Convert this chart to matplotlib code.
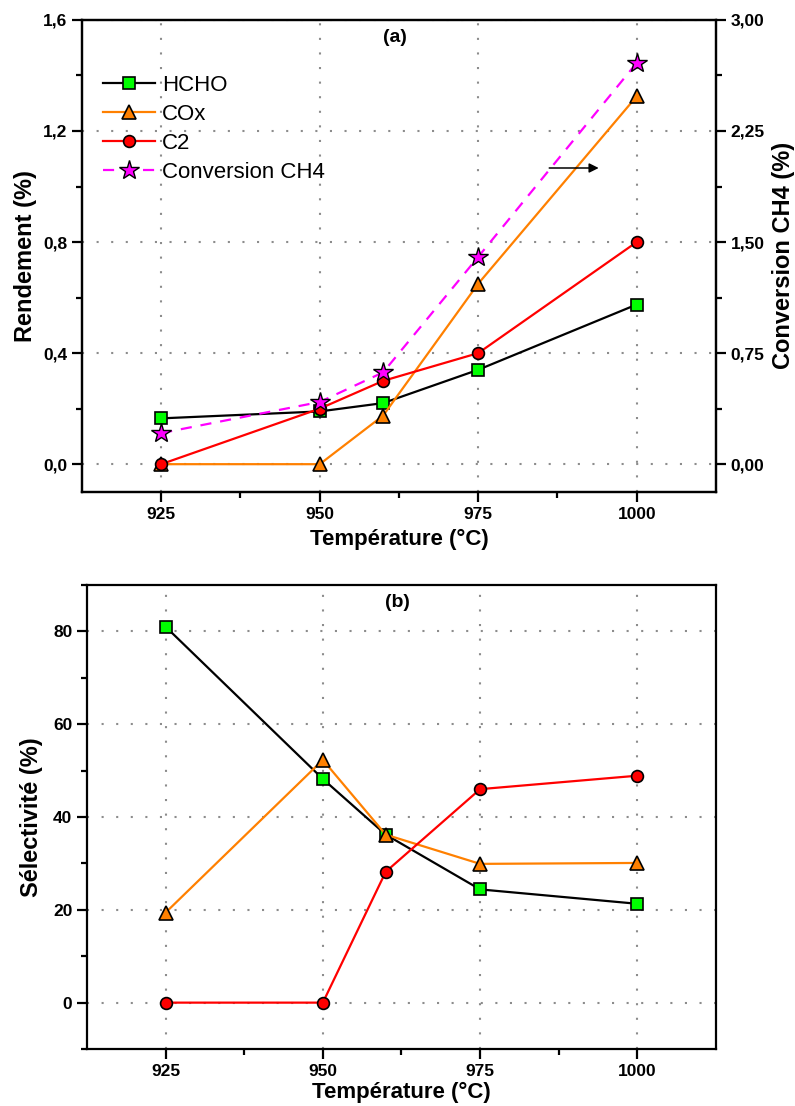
import matplotlib
matplotlib.use("Agg")
import matplotlib.pyplot as plt
from matplotlib.ticker import FixedLocator, MultipleLocator, FuncFormatter

plt.rcParams['font.family'] = ['Liberation Sans', 'DejaVu Sans']

# data
temp = [925, 950, 960, 975, 1000]

# (a) rendement (%) and conversion (%)
rdt_hcho = [0.165, 0.19, 0.22, 0.34, 0.575]
rdt_cox = [0.0, 0.0, 0.175, 0.65, 1.325]
rdt_c2 = [0.0, 0.20, 0.30, 0.40, 0.80]
conv_ch4 = [0.21, 0.42, 0.62, 1.40, 2.71]

# (b) selectivite (%)
sel_hcho = [81.0, 48.2, 36.2, 24.4, 21.3]
sel_cox = [19.4, 52.3, 36.2, 29.9, 30.1]
sel_c2 = [0.0, 0.0, 28.2, 46.0, 48.9]

labels = ['HCHO', 'COx', 'C2', 'Conversion CH4']
colors = ['black', '#ff8000', '#ff0000', '#ff00ff']

grid_kw = dict(color='#8c8c8c', linestyle=(0, (1, 6)), linewidth=1.5)
TICK_FS = 12.5
XLABEL_FS = 16
YLABEL_FS = 17


def comma(fmt):
    return FuncFormatter(lambda v, p: (fmt % v).replace('.', ','))


def style_axes(ax):
    for s in ax.spines.values():
        s.set_linewidth(1.6)
    ax.tick_params(which='major', direction='out', length=7, width=1.6,
                   labelsize=TICK_FS)
    ax.tick_params(which='minor', direction='out', length=4.5, width=1.6)
    ax.tick_params(top=False, right=False)
    for lab in ax.get_xticklabels() + ax.get_yticklabels():
        lab.set_fontweight('bold')
    ax.set_xlim(912.5, 1012.5)
    ax.xaxis.set_major_locator(FixedLocator([925, 950, 975, 1000]))
    ax.xaxis.set_minor_locator(FixedLocator([937.5, 962.5, 987.5]))
    ax.grid(True, which='major', **grid_kw)
    ax.set_axisbelow(True)
    ax.set_xlabel('Température (°C)', fontsize=XLABEL_FS, fontweight='bold')


def series(ax, y, color, marker, ms, face):
    return ax.plot(temp, y, color=color, lw=1.6, marker=marker, ms=ms,
                   mfc=face, mec='black', mew=1.2)[0]


fig = plt.figure(figsize=(7.95, 11.06), dpi=100)

# ---- (a)
ax1 = fig.add_axes([0.1031, 0.5552, 0.7975, 0.4268])
h1 = series(ax1, rdt_hcho, colors[0], 's', 8.5, '#00ff00')
h2 = series(ax1, rdt_cox, colors[1], '^', 9.5, '#ff8000')
h3 = series(ax1, rdt_c2, colors[2], 'o', 8.5, '#ff0000')
ax1.set_ylim(-0.1, 1.6)
ax1.yaxis.set_major_locator(MultipleLocator(0.4))
ax1.yaxis.set_minor_locator(MultipleLocator(0.2))
ax1.yaxis.set_major_formatter(comma('%.1f'))
style_axes(ax1)
ax1.set_ylabel('Rendement (%)', fontsize=YLABEL_FS, fontweight='bold')
ax1.yaxis.set_label_coords(-0.071, 0.5)
ax1.xaxis.set_label_coords(0.5, -0.078)

ax2 = ax1.twinx()
h4 = ax2.plot(temp, conv_ch4, color=colors[3], lw=1.6, linestyle=(0, (5, 4)),
              marker='*', ms=15, mfc='#ff00ff', mec='black', mew=1.0)[0]
ax2.set_ylim(-0.1 * 1.875, 3.0)
ax2.yaxis.set_major_locator(MultipleLocator(0.75))
ax2.yaxis.set_minor_locator(MultipleLocator(0.375))
ax2.yaxis.set_major_formatter(comma('%.2f'))
ax2.tick_params(which='major', direction='out', length=7, width=1.6,
                labelsize=TICK_FS)
ax2.tick_params(which='minor', direction='out', length=4.5, width=1.6)
for lab in ax2.get_yticklabels():
    lab.set_fontweight('bold')
for s in ax2.spines.values():
    s.set_linewidth(1.6)
ax2.set_ylabel('Conversion CH4 (%)', fontsize=YLABEL_FS, fontweight='bold')
ax2.yaxis.set_label_coords(1.088, 0.5)
ax2.annotate('', xy=(994, 2.0), xytext=(986.2, 2.0),
             arrowprops=dict(arrowstyle='-|>', color='black', lw=1.1,
                             mutation_scale=14, shrinkA=0, shrinkB=0))

ax1.text(0.494, 0.962, '(a)', transform=ax1.transAxes, ha='center', va='center',
         fontsize=14, fontweight='bold')
leg = ax1.legend([h1, h2, h3, h4], labels, loc='upper left',
                 bbox_to_anchor=(0.033, 0.884), frameon=False, fontsize=16,
                 handlelength=2.35, handletextpad=0.32, labelspacing=0.36,
                 borderaxespad=0, borderpad=0, markerscale=1.0)

# ---- (b)
ax3 = fig.add_axes([0.1094, 0.0515, 0.7912, 0.4196])
series(ax3, sel_hcho, colors[0], 's', 8.5, '#00ff00')
series(ax3, sel_cox, colors[1], '^', 9.5, '#ff8000')
series(ax3, sel_c2, colors[2], 'o', 8.5, '#ff0000')
ax3.set_ylim(-10, 90)
ax3.yaxis.set_major_locator(MultipleLocator(20))
ax3.yaxis.set_minor_locator(MultipleLocator(10))
style_axes(ax3)
ax3.set_ylabel('Sélectivité (%)', fontsize=YLABEL_FS, fontweight='bold')
ax3.yaxis.set_label_coords(-0.070, 0.5)
ax3.xaxis.set_label_coords(0.5, -0.071)
ax3.text(0.494, 0.962, '(b)', transform=ax3.transAxes, ha='center', va='center',
         fontsize=14, fontweight='bold')

fig.savefig('out.png', dpi=100)
